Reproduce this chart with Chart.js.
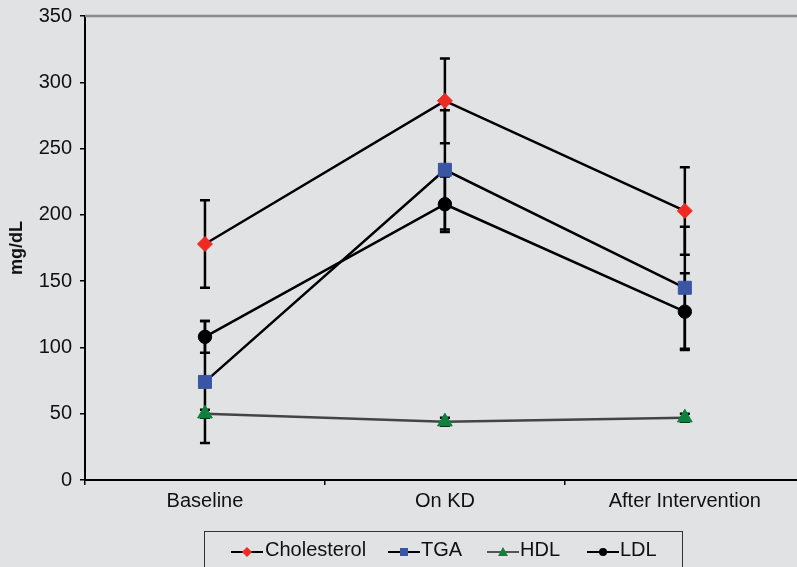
<!DOCTYPE html>
<html>
<head>
<meta charset="utf-8">
<script src="https://cdn.jsdelivr.net/npm/chart.js@4"></script>
<style>
  body { margin: 0; background: #e1e2e4; overflow: hidden; font-family: "Liberation Sans", Arial, sans-serif; }
  #grafica { position: absolute; left: 0; top: 0; }
  #legend { position: absolute; left: 204px; top: 531px; width: 477px; height: 60px; border: 1.5px solid #333; }
  .icon { position: absolute; top: 546px; }
  .lbl { position: absolute; top: 538px; font-size: 20px; color: #111; white-space: nowrap; }
</style>
</head>
<body>
<canvas id="grafica" width="815" height="567"></canvas>
<div id="legend"></div>
<svg class="icon" style="left:231px" width="32" height="12"><line x1="0" y1="6" x2="32" y2="6" stroke="#000" stroke-width="2"/><polygon points="16,1 21,6 16,11 11,6" fill="#ee2a24"/></svg>
<span class="lbl" style="left:265px">Cholesterol</span>
<svg class="icon" style="left:388px" width="32" height="12"><line x1="0" y1="6" x2="32" y2="6" stroke="#000" stroke-width="2"/><rect x="12" y="2" width="8" height="8" fill="#3a55a4"/></svg>
<span class="lbl" style="left:421px">TGA</span>
<svg class="icon" style="left:487px" width="32" height="12"><line x1="0" y1="6" x2="32" y2="6" stroke="#555" stroke-width="2"/><polygon points="16,1 21,10 11,10" fill="#10803f"/></svg>
<span class="lbl" style="left:520px">HDL</span>
<svg class="icon" style="left:587px" width="32" height="12"><line x1="0" y1="6" x2="32" y2="6" stroke="#000" stroke-width="2"/><circle cx="16" cy="6" r="4" fill="#000"/></svg>
<span class="lbl" style="left:620px">LDL</span>

<script>
const categorias = ["Baseline", "On KD", "After Intervention"];
const colesterol = [178, 286, 203];
const colesterolErr = [33, 32, 33];
const tga = [74, 234, 145];
const tgaErr = [46, 45, 46];
const hdl = [50, 44, 47];
const hdlErr = [3, 3, 3];
const ldl = [108, 208, 127];
const ldlErr = [12, 21, 29];
const ticksY = [0, 50, 100, 150, 200, 250, 300, 350];

// barras de error dibujadas con las escalas de la grafica
const barrasError = {
    id: "barrasError",
    beforeDatasetsDraw(chart) {
        const { ctx, scales: { y } } = chart;
        ctx.save();
        ctx.strokeStyle = "#000";
        ctx.lineWidth = 2.5;
        chart.data.datasets.forEach((ds, i) => {
            chart.getDatasetMeta(i).data.forEach((pt, j) => {
                const v = ds.data[j], e = ds.errores[j];
                const top = y.getPixelForValue(v + e);
                const bot = y.getPixelForValue(v - e);
                ctx.beginPath();
                ctx.moveTo(pt.x, top); ctx.lineTo(pt.x, bot);
                ctx.moveTo(pt.x - 5, top); ctx.lineTo(pt.x + 5, top);
                ctx.moveTo(pt.x - 5, bot); ctx.lineTo(pt.x + 5, bot);
                ctx.stroke();
            });
        });
        ctx.restore();
    }
};

// linea gris arriba del area
const bordeSuperior = {
    id: "bordeSuperior",
    afterDraw(chart) {
        const { ctx, chartArea } = chart;
        ctx.save();
        ctx.strokeStyle = "#8a8a8a";
        ctx.lineWidth = 2.5;
        ctx.beginPath();
        ctx.moveTo(chartArea.left, chartArea.top);
        ctx.lineTo(chartArea.right, chartArea.top);
        ctx.stroke();
        ctx.restore();
    }
};

function serie(label, datos, errores, estilo, color, radio, colorLinea) {
    return {
        label: label,
        data: datos,
        errores: errores,
        borderColor: colorLinea,
        borderWidth: 2.5,
        tension: 0,
        pointStyle: estilo,
        pointRadius: radio,
        pointBackgroundColor: color,
        pointBorderColor: color,
        pointBorderWidth: 1
    };
}

function crearGrafica() {
    const ctx = document.getElementById("grafica");

    new Chart(ctx, {
        type: "line",
        data: {
            labels: categorias,
            datasets: [
                serie("HDL", hdl, hdlErr, "triangle", "#10803f", 8.5, "#444"),
                serie("LDL", ldl, ldlErr, "circle", "#000", 6.7, "#000"),
                serie("TGA", tga, tgaErr, "rect", "#3a55a4", 9.2, "#000"),
                serie("Cholesterol", colesterol, colesterolErr, "rectRot", "#ee2a24", 7.5, "#000")
            ]
        },
        options: {
            responsive: false,
            animation: false,
            layout: { padding: { top: 16, left: 0, right: 0, bottom: 47 } },
            plugins: { legend: { display: false }, tooltip: { enabled: false } },
            scales: {
                x: {
                    offset: true,
                    afterFit: s => { s.height = 40; s.paddingLeft = 0; s.paddingRight = 0; },
                    border: { color: "#000", width: 2 },
                    grid: { offset: true, drawOnChartArea: false, tickLength: 5, color: "#000", lineWidth: 1.5 },
                    ticks: { color: "#111", padding: 4, font: { family: "Liberation Sans", size: 20 } }
                },
                y: {
                    min: 0,
                    max: 350,
                    afterFit: s => { s.width = 85; s.paddingTop = 0; s.paddingBottom = 0; },
                    afterBuildTicks: s => { s.ticks = ticksY.map(v => ({ value: v })); },
                    border: { color: "#000", width: 2 },
                    grid: { drawOnChartArea: false, tickLength: 5, color: "#000", lineWidth: 1.5 },
                    ticks: { color: "#111", padding: 8, font: { family: "Liberation Sans", size: 20 } },
                    title: {
                        display: true,
                        text: "mg/dL",
                        color: "#111",
                        padding: { top: 6, bottom: 0 },
                        font: { family: "Liberation Sans", size: 18, weight: "bold" }
                    }
                }
            }
        },
        plugins: [barrasError, bordeSuperior]
    });
}

document.addEventListener("DOMContentLoaded", () => {
    crearGrafica();
});
</script>
</body>
</html>
